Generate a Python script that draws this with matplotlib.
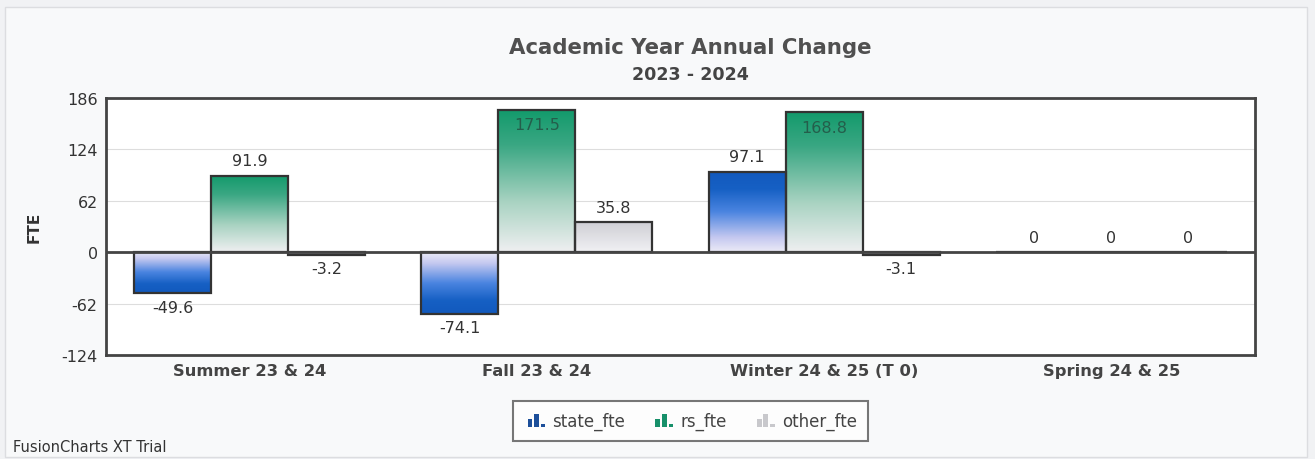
import numpy as np
import matplotlib
matplotlib.use("Agg")
import matplotlib.pyplot as plt
from matplotlib.patches import Rectangle
from matplotlib.colors import LinearSegmentedColormap
from matplotlib.legend_handler import HandlerBase

plt.rcParams['font.family'] = ['DejaVu Sans']

categories = ["Summer 23 & 24", "Fall 23 & 24", "Winter 24 & 25 (T 0)", "Spring 24 & 25"]
state_fte = [-49.6, -74.1, 97.1, 0]
rs_fte = [91.9, 171.5, 168.8, 0]
other_fte = [-3.2, 35.8, -3.1, 0]
series_names = ["state_fte", "rs_fte", "other_fte"]
y_ticks = [-124, -62, 0, 62, 124, 186]

# gradient stops from the zero line (0) to the bar's end (1), plus legend icon colour
gradients = [
    [(0.0, "#ecebf7"), (0.18, "#c4c8f0"), (0.5, "#4a84e0"), (0.78, "#1660c4"), (1.0, "#1259bd")],
    [(0.0, "#efeff1"), (0.35, "#a9d3c2"), (0.75, "#3aa783"), (1.0, "#129a6b")],
    [(0.0, "#f1f1f4"), (1.0, "#cfcfd5")],
]
icon_colors = ["#1d4f9a", "#17906a", "#c8c8cc"]

fig = plt.figure(figsize=(13.15, 4.6), dpi=100)
fig.patch.set_facecolor("#f1f2f4")
# white card behind the chart
fig.patches.append(Rectangle((0.004, 0.005), 0.99, 0.978, transform=fig.transFigure,
                             facecolor="#f8f9fa", edgecolor="#dcdde0", lw=1, zorder=-5))

ax = fig.add_axes([0.0806, 0.226, 0.8737, 0.559])
ax.set_zorder(2)
ax.set_facecolor("white")
ax.set_ylim(-124, 186)
ax.set_xlim(-0.5, len(categories) - 0.5)
ax.set_yticks(y_ticks)
ax.set_yticklabels([str(t) for t in y_ticks], fontsize=11.5, color="#333333")
ax.set_xticks(range(len(categories)))
ax.set_xticklabels(categories, fontsize=11.8, fontweight="bold", color="#444444")
ax.tick_params(axis="both", length=0, pad=6)
for s in ax.spines.values():
    s.set_color("#444444")
    s.set_linewidth(2)
for t in y_ticks[1:-1]:
    if t != 0:
        ax.axhline(t, color="#dddddd", lw=0.8, zorder=0)

width = 0.268
x = np.arange(len(categories))
all_series = [state_fte, rs_fte, other_fte]
grad = np.linspace(0, 1, 256).reshape(-1, 1)

for i, vals in enumerate(all_series):
    cmap = LinearSegmentedColormap.from_list(f"g{i}", gradients[i])
    offs = (i - 1) * width
    bars = ax.bar(x + offs, vals, width, facecolor="none", edgecolor="#333333",
                  linewidth=1.6, zorder=3)
    for b, v in zip(bars, vals):
        x0, w, h = b.get_x(), b.get_width(), b.get_height()
        if h != 0:
            img = grad if h > 0 else grad[::-1]
            # gradient runs from light near zero to dark at the bar's end
            ax.imshow(img, cmap=cmap, aspect="auto", origin="lower",
                      extent=[x0, x0 + w, min(0, h), max(0, h)], zorder=2,
                      interpolation="bilinear")
        cx = x0 + w / 2
        label = f"{v:g}"
        if v > 150:
            ax.text(cx, v - 9, label, ha="center", va="top", fontsize=11.5,
                    color="#245e4b", zorder=4)
        elif v >= 0:
            ax.text(cx, v + 9, label, ha="center", va="bottom", fontsize=11.5,
                    color="#333333", zorder=4)
        else:
            ax.text(cx, v - 8, label, ha="center", va="top", fontsize=11.5,
                    color="#333333", zorder=4)

ax.axhline(0, color="#444444", lw=2, zorder=4)
ax.set_xlim(-0.5, len(categories) - 0.5)
ax.set_ylim(-124, 186)

ax.set_ylabel("FTE", fontsize=11, fontweight="bold", color="#333333", labelpad=14)

fig.text(0.525, 0.895, "Academic Year Annual Change", ha="center", va="center",
         fontsize=15.3, fontweight="bold", color="#505050")
fig.text(0.525, 0.838, "2023 - 2024", ha="center", va="center",
         fontsize=12.6, fontweight="bold", color="#444444")
fig.text(0.010, 0.028, "FusionCharts XT Trial", ha="left", va="center",
         fontsize=10.5, color="#333333")


class BarIconHandler(HandlerBase):
    def __init__(self, color):
        super().__init__()
        self.color = color

    def create_artists(self, legend, orig_handle, xdescent, ydescent, width, height,
                       fontsize, trans):
        arts = []
        bw = width * 0.2
        heights = [0.75, 1.15, 0.3]
        for k, hh in enumerate(heights):
            r = Rectangle((-xdescent + width * 0.15 + k * bw * 1.4, -ydescent - height * 0.1),
                          bw, height * hh, facecolor=self.color,
                          edgecolor="none", transform=trans)
            arts.append(r)
        return arts


handles = [Rectangle((0, 0), 1, 1) for _ in series_names]
handler_map = {h: BarIconHandler(icon_colors[i]) for i, h in enumerate(handles)}
leg = fig.legend(handles, series_names, loc="center", bbox_to_anchor=(0.525, 0.082),
                 ncol=3, frameon=True, fontsize=12, handler_map=handler_map,
                 handlelength=1.4, handletextpad=0.3, columnspacing=1.6,
                 borderpad=0.65, fancybox=False)
leg.get_frame().set_edgecolor("#555555")
leg.get_frame().set_linewidth(1.5)
for t in leg.get_texts():
    t.set_color("#444444")

fig.savefig("out.png", dpi=100, facecolor=fig.get_facecolor())
